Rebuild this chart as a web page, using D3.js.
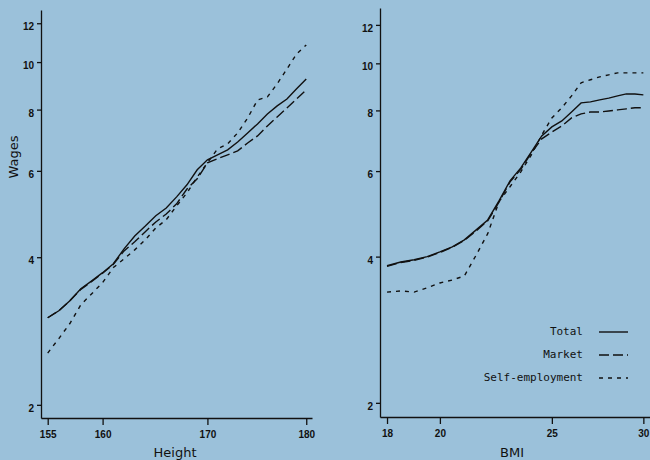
<!DOCTYPE html>
<html>
<head>
<meta charset="utf-8">
<script src="https://cdn.jsdelivr.net/npm/d3@7"></script>
<style>
  body { margin: 0; background: #9bc1da; }
  svg { display: block; }
  .tick text { font-family: "Liberation Sans", Arial, sans-serif; font-weight: bold; font-size: 10px; fill: #111; }
  .domain, .tick line { stroke: #111; stroke-width: 1.3; }
  .legend text { font-family: "DejaVu Sans Mono", monospace; font-size: 11px; fill: #111; }
  .title { font-family: "DejaVu Sans", sans-serif; font-size: 13px; fill: #111; }
</style>
</head>
<body>
<div id="chart"></div>
<script>
// data
var heights = [155,156,157,158,159,160,161,162,163,164,165,166,167,168,169,170,171,172,173,174,175,176,177,178,179,180];
var heightTotal = [3.01,3.11,3.26,3.45,3.58,3.72,3.88,4.16,4.42,4.63,4.86,5.04,5.31,5.62,6.03,6.32,6.47,6.62,6.87,7.17,7.48,7.84,8.14,8.41,8.82,9.24];
var heightMarket = [3.01,3.11,3.26,3.44,3.57,3.71,3.87,4.12,4.30,4.51,4.72,4.90,5.14,5.51,5.78,6.23,6.35,6.47,6.59,6.84,7.07,7.41,7.73,8.06,8.41,8.78];
var heightSelf = [2.55,2.73,2.93,3.20,3.37,3.55,3.81,3.97,4.14,4.34,4.59,4.77,5.09,5.41,5.83,6.23,6.65,6.81,7.17,7.69,8.37,8.49,9.03,9.68,10.39,10.84];

var bmis = [18,18.5,19,19.5,20,20.5,21,21.5,22,22.5,23,23.5,24,24.5,25,25.5,26,26.5,27,27.5,28,28.5,29,29.5,30];
var bmiTotal = [3.83,3.90,3.94,4.00,4.09,4.19,4.33,4.54,4.76,5.21,5.73,6.09,6.57,7.09,7.40,7.61,7.94,8.29,8.33,8.41,8.48,8.57,8.65,8.65,8.61];
var bmiMarket = [3.82,3.89,3.93,3.99,4.08,4.18,4.32,4.52,4.74,5.18,5.70,6.05,6.54,6.99,7.22,7.43,7.72,7.87,7.94,7.94,7.98,8.02,8.06,8.10,8.10];
var bmiSelf = [3.38,3.40,3.38,3.45,3.53,3.58,3.65,4.03,4.46,5.19,5.57,5.98,6.48,7.12,7.72,8.10,8.57,9.12,9.25,9.38,9.47,9.56,9.56,9.56,9.56];

var yTicks = [2,4,6,8,10,12];
var heightTicks = [155,160,170,180];
var bmiTicks = [18,20,25,30];

var seriesNames = ["Total", "Market", "Self-employment"];
var dashes = [null, "10,4", "4,5"];

var svg = d3.select('#chart')
  .append('svg')
  .attr('width', 650)
  .attr('height', 460);

function drawPanel(xs, ysList, xDomain, xRange, yDomain, yRange, xTicks, xTitle, xTitlePos) {
  var x = d3.scaleLog().domain(xDomain).range(xRange);
  var y = d3.scaleLog().domain(yDomain).range(yRange);

  svg.append('g')
    .attr('transform', 'translate(0,' + yRange[0] + ')')
    .call(d3.axisBottom(x).tickValues(xTicks).tickFormat(d3.format('d'))
      .tickSize(7).tickSizeOuter(0).tickPadding(6));

  svg.append('g')
    .attr('transform', 'translate(' + xRange[0] + ',0)')
    .call(d3.axisLeft(y).tickValues(yTicks).tickFormat(d3.format('d'))
      .tickSize(4).tickSizeOuter(0).tickPadding(3))
    .selectAll('.tick text').attr('dy', '0.65em');

  var line = d3.line()
    .x(function(d) { return x(d[0]); })
    .y(function(d) { return y(d[1]); });

  ysList.forEach(function(vals, i) {
    svg.append('path')
      .datum(xs.map(function(v, j) { return [v, vals[j]]; }))
      .attr('d', line)
      .attr('fill', 'none')
      .attr('stroke', '#111')
      .attr('stroke-width', 1.4)
      .attr('stroke-dasharray', dashes[i]);
  });

  svg.append('text')
    .attr('class', 'title')
    .attr('x', xTitlePos)
    .attr('y', 457)
    .attr('text-anchor', 'middle')
    .text(xTitle);
}

drawPanel(heights, [heightTotal, heightMarket, heightSelf],
  [154.4, 180.6], [41, 312], [1.88, 12.77], [418, 10], heightTicks, 'Height', 175);

drawPanel(bmis, [bmiTotal, bmiMarket, bmiSelf],
  [17.75, 30.4], [380, 650], [1.87, 13.0], [417, 8], bmiTicks, 'BMI', 512);

svg.append('text')
  .attr('class', 'title')
  .attr('transform', 'translate(18,157) rotate(-90)')
  .attr('text-anchor', 'middle')
  .text('Wages');

var legend = svg.selectAll('.legend')
  .data(seriesNames)
  .enter()
  .append('g')
  .attr('class', 'legend')
  .attr('transform', function(d, i) {
    return 'translate(0,' + (331 + i * 23) + ')';
  });

legend.append('text')
  .attr('x', 583)
  .attr('y', 4)
  .attr('text-anchor', 'end')
  .text(function(d) { return d; });

legend.append('line')
  .attr('x1', 599)
  .attr('x2', 628)
  .attr('y1', 1)
  .attr('y2', 1)
  .attr('stroke', '#111')
  .attr('stroke-width', 1.4)
  .attr('stroke-dasharray', function(d, i) { return dashes[i]; });
</script>
</body>
</html>
